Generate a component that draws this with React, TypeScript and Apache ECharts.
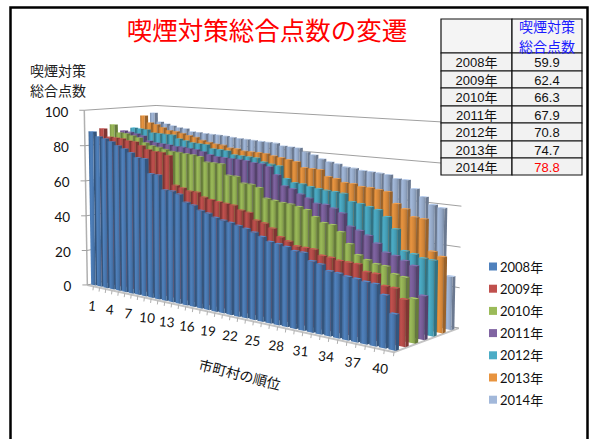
import React, { useEffect, useRef } from "react";
import * as echarts from "echarts";

const years = ["2008年", "2009年", "2010年", "2011年", "2012年", "2013年", "2014年"];
const tableScores = ["59.9", "62.4", "66.3", "67.9", "70.8", "74.7", "78.8"];
const yTicks = [0, 20, 40, 60, 80, 100];
const colors = ["#4F81BD", "#C0504D", "#9BBB59", "#8064A2", "#4BACC6", "#E8943F", "#A2B8DA"];

const v2008 = [88,85.5,84.6,83.3,81.4,80,78.2,75.8,75.6,67.8,67.6,60,59.9,58.7,54.9,53.9,51.7,50.7,49.1,48.2,47.6,46.7,45.7,44.4,42.8,40.9,40.5,39.7,38.3,38.2,34.7,33.9,31.3,31,30.2,29.9,29.2,29,24.6,16.7];
const v2009 = [89.2,84.7,84.5,84.4,83.5,83.2,81.5,79.6,78.9,78.8,77.5,61.7,60.7,59.5,59.4,57.2,56.4,55.8,55.5,55.1,53,52.4,48.9,48,46,42.2,40.7,38.9,38.8,38.7,36.2,35.9,35.1,35,34.9,31.8,31.7,26.7,26.5,22];
const v2010 = [91,86.6,86.4,85.5,84.6,82.1,80.7,80.3,79.5,78.7,78.5,78.1,77.9,77.2,74.7,74.6,74.5,68.9,68.8,65.6,65.5,64.3,59.2,58.6,58,57.8,57,56,53,50.6,50.2,47.3,42,37.3,35.6,34.3,34,30.9,30.2,20.9];
const v2011 = [87,86.4,85.8,84.9,82.3,81.5,81.3,81,80.5,80.4,80.1,79.8,79,77.7,77,76.8,76.7,76.6,76.3,75.6,75.4,74.3,70.5,65.2,64.2,62,60.4,58.3,58.2,56.9,55,49,47.6,45.7,42.5,38.7,37.8,36.1,34.4,20.8];
const v2012 = [88.1,87.8,87.6,86,85.9,85.8,85.7,83.8,83.1,82.2,82,81.9,79.9,79.8,79.5,77.6,77.5,77.3,77.1,75.3,74.6,74,67.8,66.1,65.9,65,64.4,64,63.8,63.4,59.8,59.3,58.3,57.3,54.4,49,38.9,38.1,36.8,36.5];
const v2013 = [94.8,90.9,90.1,88.6,87.2,86.9,86.1,85.2,84.5,83.1,82.3,81.6,81.3,80.1,79.9,79.1,79,78.9,78.8,77.9,77.3,76.6,76,73.2,73.1,73,69.8,69.2,67.6,67.5,66.5,66.4,65.9,65.4,59.9,57.8,54.4,54,38.9,37];
const v2014 = [96,90.9,90,89.1,88.3,88,86.5,86.4,86.1,85.9,85.8,85.5,85.1,84.8,84.6,84.4,84.1,84,83.8,82.6,82.4,82.2,80.4,79.2,77.5,76.3,75.6,74.4,74.2,73.4,73.2,73,72.6,71,70.9,66.9,63.4,60,59,26.2];
const seriesValues = [v2008, v2009, v2010, v2011, v2012, v2013, v2014];

const JP = "'Noto Sans CJK JP', sans-serif";
const LAT = "Lato, 'Noto Sans CJK JP', sans-serif";
const TBL = "'Liberation Sans', 'Noto Sans CJK JP', sans-serif";

// camera fit: unit cube corners (rank axis, depth, value) to the page
const anchors: number[][] = [
  [0, 0, 0, 89, 287], [1, 0, 0, 393, 352], [1, 1, 0, 460, 328], [0, 1, 0, 156, 268],
  [0, 0, 1, 83.5, 110.5], [0, 1, 1, 157, 105], [1, 1, 1, 463, 126], [1, 0, 1, 397, 128],
];
function solveCamera(): number[] {
  const rows: number[][] = [];
  const rhs: number[] = [];
  for (const [u, v, z, x, y] of anchors) {
    rows.push([u, v, z, 1, 0, 0, 0, 0, -x * u, -x * v, -x * z]); rhs.push(x);
    rows.push([0, 0, 0, 0, u, v, z, 1, -y * u, -y * v, -y * z]); rhs.push(y);
  }
  const n = 11;
  const m: number[][] = [];
  for (let i = 0; i < n; i++) {
    m.push(new Array(n + 1).fill(0));
    for (let j = 0; j < n; j++) rows.forEach((r) => (m[i][j] += r[i] * r[j]));
    rows.forEach((r, k) => (m[i][n] += r[i] * rhs[k]));
    m[i][i] += 1e-9;
  }
  for (let c = 0; c < n; c++) {
    let p = c;
    for (let r = c + 1; r < n; r++) if (Math.abs(m[r][c]) > Math.abs(m[p][c])) p = r;
    [m[c], m[p]] = [m[p], m[c]];
    for (let r = 0; r < n; r++) {
      if (r === c) continue;
      const f = m[r][c] / m[c][c];
      for (let k = c; k <= n; k++) m[r][k] -= f * m[c][k];
    }
  }
  return m.map((r, i) => r[n] / r[i]);
}
const cam = solveCamera();
function project(u: number, v: number, z: number): number[] {
  const w = cam[8] * u + cam[9] * v + cam[10] * z + 1;
  return [(cam[0] * u + cam[1] * v + cam[2] * z + cam[3]) / w, (cam[4] * u + cam[5] * v + cam[6] * z + cam[7]) / w];
}
function shade(hex: string, f: number): string {
  const n = parseInt(hex.slice(1), 16);
  const ch = (s: number) => Math.max(0, Math.min(255, Math.round(((n >> s) & 255) * f)));
  return `rgb(${ch(16)},${ch(8)},${ch(0)})`;
}

const BAR_HALF = 0.37;
const V_FRONT = 0.28;
const V_BACK = 0.62;
const ROWS = 7;

function barSeries(rowIdx: number) {
  const base = colors[rowIdx];
  const front = new echarts.graphic.LinearGradient(0, 0, 1, 0, [
    { offset: 0, color: shade(base, 0.78) },
    { offset: 0.35, color: shade(base, 1.0) },
    { offset: 0.7, color: shade(base, 0.9) },
    { offset: 1, color: shade(base, 0.74) },
  ]);
  return {
    type: "custom",
    name: years[rowIdx],
    coordinateSystem: "cartesian2d",
    clip: false,
    silent: true,
    itemStyle: { color: base },
    data: seriesValues[rowIdx].map((val, i) => [i + 0.5, val]),
    encode: { x: 0, y: 1 },
    renderItem: (params: any, api: any) => {
      const cs = params.coordSys;
      const rank = api.value(0);
      const val = api.value(1);
      const l = api.coord([rank - BAR_HALF, val]);
      const r = api.coord([rank + BAR_HALF, 0]);
      const U0 = (l[0] - cs.x) / cs.width;
      const U1 = (r[0] - cs.x) / cs.width;
      const Z = 1 - (l[1] - cs.y) / cs.height;
      const V0 = (rowIdx + V_FRONT) / ROWS;
      const V1 = (rowIdx + V_BACK) / ROWS;
      const f0 = project(U0, V0, 0), f1 = project(U1, V0, 0), f2 = project(U1, V0, Z), f3 = project(U0, V0, Z);
      const b1 = project(U1, V1, 0), b2 = project(U1, V1, Z), b3 = project(U0, V1, Z);
      return {
        type: "group",
        children: [
          { type: "polygon", shape: { points: [f1, b1, b2, f2] }, style: { fill: shade(base, 0.66) } },
          { type: "polygon", shape: { points: [f3, f2, b2, b3] }, style: { fill: shade(base, 1.08) } },
          { type: "polygon", shape: { points: [f0, f1, f2, f3] }, style: { fill: front } },
        ],
      };
    },
  };
}

const wallSeries = {
  type: "custom",
  name: "walls",
  coordinateSystem: "cartesian2d",
  clip: false,
  silent: true,
  z: 1,
  data: yTicks.map((t) => [0, t]),
  encode: { x: 0, y: 1 },
  renderItem: (params: any, api: any) => {
    const cs = params.coordSys;
    const tick = api.value(1);
    const Z = 1 - (api.coord([0, tick])[1] - cs.y) / cs.height;
    const a = project(0, 0, Z), b = project(0, 1, Z), c = project(1, 1, Z);
    const line = { stroke: "#a0a0a0", lineWidth: 1, fill: "none" };
    const children: any[] = [
      { type: "polyline", shape: { points: [a, b, c] }, style: line },
      { type: "line", shape: { x1: a[0] - 5, y1: a[1], x2: a[0], y2: a[1] }, style: { stroke: "#a0a0a0", lineWidth: 1 } },
      { type: "text", x: a[0] - 16, y: a[1] + 1.5, style: { text: String(tick), textAlign: "right", textVerticalAlign: "middle", fill: "#111", fontSize: 13.5, fontFamily: LAT } },
    ];
    if (tick === 0) {
      const d = project(1, 0, 0), top = project(0, 0, 1);
      children.unshift(
        { type: "line", shape: { x1: a[0], y1: a[1], x2: top[0], y2: top[1] }, style: { stroke: "#b0b0b0", lineWidth: 1.5 } },
        { type: "polyline", shape: { points: [a, d, c] }, style: { stroke: "#c4c4c4", lineWidth: 2, fill: "none" } },
      );
    }
    return { type: "group", children };
  },
};

const rankSeries = {
  type: "custom",
  name: "ranks",
  coordinateSystem: "cartesian2d",
  clip: false,
  silent: true,
  z: 1,
  data: v2008.map((_, i) => [i + 1, 0]),
  encode: { x: 0, y: 1 },
  renderItem: (params: any, api: any) => {
    const cs = params.coordSys;
    const rank = api.value(0);
    const U = (api.coord([rank, 0])[0] - cs.x) / cs.width;
    const Uc = (api.coord([rank - 0.5, 0])[0] - cs.x) / cs.width;
    const p = project(U, 0, 0);
    const pc = project(Uc, 0, 0);
    const children: any[] = [
      { type: "line", shape: { x1: p[0], y1: p[1], x2: p[0] - 0.5, y2: p[1] + 4 }, style: { stroke: "#b0b0b0", lineWidth: 1 } },
    ];
    if ((rank - 1) % 3 === 0) {
      children.push({
        type: "text", x: pc[0] + 2 - 11 * Uc, y: pc[1] + 20 - 3 * Uc, rotation: -0.1,
        style: { text: String(rank), textAlign: "center", textVerticalAlign: "middle", fill: "#111", fontSize: 13.5, fontFamily: LAT },
      });
    }
    return { type: "group", children };
  },
};

const tableX = [441, 512, 582];
const tableY = [19, 53, 71, 88, 106, 123, 141, 158, 175];

function tableGraphics() {
  const out: any[] = [];
  const cell = (x1: number, y1: number, x2: number, y2: number, fill: string) => ({
    type: "rect", z: 100, shape: { x: x1, y: y1, width: x2 - x1, height: y2 - y1 }, style: { fill, stroke: "#111", lineWidth: 1.2 },
  });
  out.push(cell(tableX[0], tableY[0], tableX[1], tableY[1], "#f4f4f4"));
  out.push(cell(tableX[1], tableY[0], tableX[2], tableY[1], "#f4f4f4"));
  years.forEach((yr, i) => {
    const y0 = tableY[i + 1], y1 = tableY[i + 2], cy = (y0 + y1) / 2 + 0.5;
    out.push(cell(tableX[0], y0, tableX[1], y1, "#f2f2f2"));
    out.push(cell(tableX[1], y0, tableX[2], y1, "#f2f2f2"));
    out.push({ type: "text", z: 101, x: (tableX[0] + tableX[1]) / 2, y: cy, style: { text: yr, textAlign: "center", textVerticalAlign: "middle", fill: "#111", fontSize: 13, fontFamily: TBL } });
    out.push({ type: "text", z: 101, x: (tableX[1] + tableX[2]) / 2, y: cy, style: { text: tableScores[i], textAlign: "center", textVerticalAlign: "middle", fill: i === 6 ? "#ff0000" : "#111", fontSize: 13, fontFamily: TBL } });
  });
  out.push({ type: "text", z: 101, x: 547, y: 36, style: { text: "喫煙対策\n総合点数", lineHeight: 20.5, textAlign: "center", textVerticalAlign: "middle", fill: "#1a1aff", fontSize: 14, fontFamily: JP } });
  return out;
}

export default function App() {
  const ref = useRef<HTMLDivElement>(null);
  useEffect(() => {
    document.body.style.margin = "0";
    const chart = echarts.init(ref.current!, undefined, { renderer: "svg" });
    chart.setOption({
      animation: false,
      backgroundColor: "#fff",
      title: {
        text: "喫煙対策総合点数の変遷", left: 262, top: 11, textAlign: "center",
        textStyle: { color: "#ff0000", fontSize: 25.5, fontWeight: "normal", fontFamily: JP },
      },
      grid: { left: 0, top: 0, width: 400, height: 100, show: false },
      xAxis: { type: "value", min: 0, max: 40, show: false },
      yAxis: { type: "value", min: 0, max: 100, show: false },
      legend: {
        orient: "vertical", left: 484, top: 255, itemWidth: 8, itemHeight: 8, itemGap: 9.2,
        icon: "rect", data: years, selectedMode: false,
        textStyle: { color: "#111", fontSize: 13, fontFamily: LAT, padding: [0, 0, 0, -2] },
      },
      series: [wallSeries, rankSeries, ...[6, 5, 4, 3, 2, 1, 0].map(barSeries)],
      graphic: [
        { type: "rect", z: 90, shape: { x: 10.5, y: 7.5, width: 577, height: 440 }, style: { fill: "none", stroke: "#000", lineWidth: 2.5 } },
        { type: "text", z: 95, x: 58, y: 80, style: { text: "喫煙対策\n総合点数", lineHeight: 20.5, textAlign: "center", textVerticalAlign: "middle", fill: "#222", fontSize: 14, fontFamily: JP } },
        { type: "text", z: 95, x: 240, y: 374, rotation: -0.25, style: { text: "市町村の順位", textAlign: "center", textVerticalAlign: "middle", fill: "#111", fontSize: 14, fontFamily: JP } },
        ...tableGraphics(),
      ],
    });
    return () => chart.dispose();
  }, []);
  return <div ref={ref} style={{ width: 590, height: 439 }} />;
}
